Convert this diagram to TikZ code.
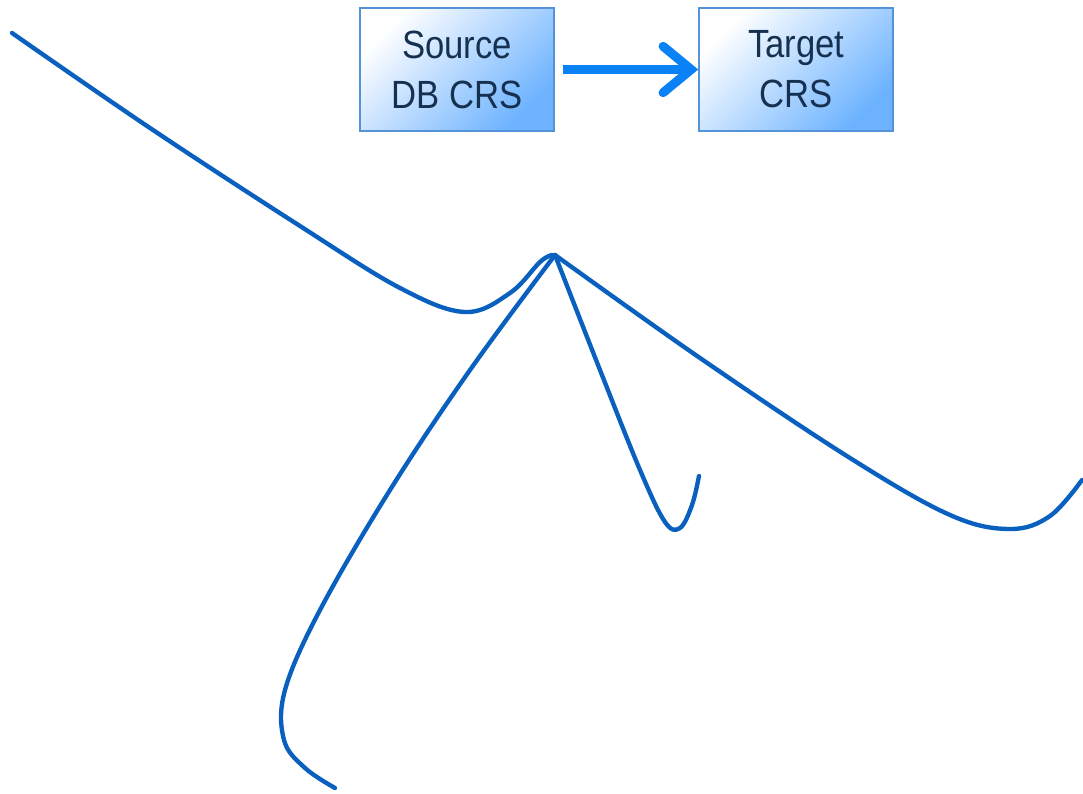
\documentclass[tikz,border=0pt]{standalone}
\usepackage{fontspec}
\setmainfont{Liberation Sans}
\newfontfamily\crsfont[FakeStretch=0.88]{Liberation Sans}
\usepackage{tikz}
\usetikzlibrary{arrows.meta,positioning}
\definecolor{crsborder}{HTML}{5593D8}
\definecolor{crsfill}{HTML}{6CB2FF}
\definecolor{crstext}{HTML}{16304F}
\definecolor{crsarrow}{HTML}{0A82F5}
\definecolor{sketch}{HTML}{0A60BE}

\begin{document}
\begin{tikzpicture}[x=0.025cm,y=-0.025cm,
  crsbox/.style={draw=crsborder,line width=1.4pt,
    minimum width=4.85cm,minimum height=3.07cm,inner sep=0pt,
    top color=white,bottom color=crsfill,shading angle=45,
    text=crstext,align=center,font=\crsfont\fontsize{28}{35.5}\selectfont},
  crsflow/.style={draw=crsarrow,line width=6.4pt,
    -{Straight Barb[length=20pt,width=33pt,line cap=round]}},
  sketchline/.style={draw=sketch,line width=3.1pt,line cap=round,line join=round}]
\useasboundingbox (0,0) rectangle (1083,794);

% transformation boxes
\node[crsbox] (source) at (457,69.5) {Source\\DB CRS};
\node[crsbox,right=3.58cm of source] (target) {Target\\CRS};
\draw[crsflow] (source.east) ++(8,0) coordinate (flowstart) -- (target.west);

% freehand strokes
\coordinate (hub) at (555,255);
\draw[sketchline] plot[smooth,tension=0.6] coordinates {(12,33) (150,128) (300,226)
  (400,288) (465,312) (510,293) (540,262) (552,255)};
\draw[sketchline] plot[smooth,tension=0.6] coordinates {(hub) (470,370) (390,490)
  (320,610) (285,690) (284,740) (305,768) (335,788)};
\draw[sketchline] plot[smooth,tension=0.6] coordinates {(hub) (600,370) (640,470)
  (665,522) (680,528) (692,505) (699,476)};
\draw[sketchline] plot[smooth,tension=0.6] coordinates {(hub) (700,358) (850,458)
  (950,515) (1010,529) (1050,516) (1082,480)};
\end{tikzpicture}
\end{document}
